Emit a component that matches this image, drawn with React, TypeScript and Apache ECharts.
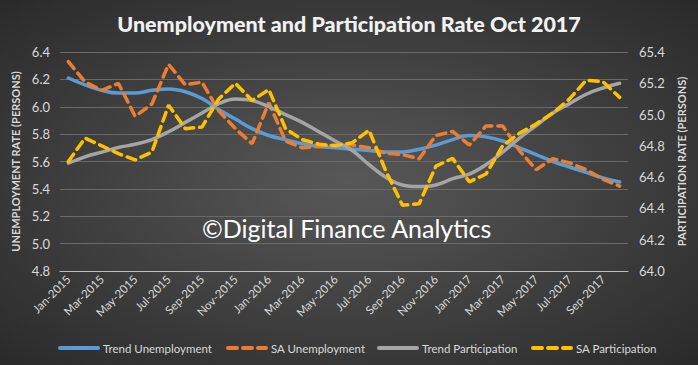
import React, { useEffect, useRef } from 'react';
import * as echarts from 'echarts';

const categories = [
  'Jan-2015', 'Feb-2015', 'Mar-2015', 'Apr-2015', 'May-2015', 'Jun-2015', 'Jul-2015', 'Aug-2015',
  'Sep-2015', 'Oct-2015', 'Nov-2015', 'Dec-2015', 'Jan-2016', 'Feb-2016', 'Mar-2016', 'Apr-2016',
  'May-2016', 'Jun-2016', 'Jul-2016', 'Aug-2016', 'Sep-2016', 'Oct-2016', 'Nov-2016', 'Dec-2016',
  'Jan-2017', 'Feb-2017', 'Mar-2017', 'Apr-2017', 'May-2017', 'Jun-2017', 'Jul-2017', 'Aug-2017',
  'Sep-2017', 'Oct-2017',
];

const trendUnemployment = [
  6.21, 6.16, 6.12, 6.10, 6.10, 6.12, 6.13, 6.11, 6.06, 5.98, 5.91, 5.84, 5.79, 5.76, 5.73, 5.71,
  5.70, 5.69, 5.68, 5.67, 5.67, 5.69, 5.72, 5.76, 5.79, 5.78, 5.75, 5.70, 5.65, 5.60, 5.56, 5.52,
  5.48, 5.45,
];

const saUnemployment = [
  6.33, 6.18, 6.12, 6.17, 5.93, 6.02, 6.31, 6.16, 6.18, 5.97, 5.84, 5.73, 6.03, 5.75, 5.70, 5.71,
  5.72, 5.72, 5.70, 5.66, 5.65, 5.62, 5.79, 5.82, 5.72, 5.86, 5.86, 5.68, 5.54, 5.62, 5.59, 5.54,
  5.47, 5.42,
];

const trendParticipation = [
  64.69, 64.73, 64.76, 64.79, 64.81, 64.84, 64.89, 64.95, 65.01, 65.07, 65.10, 65.09, 65.05, 65.00,
  64.95, 64.89, 64.83, 64.77, 64.68, 64.60, 64.55, 64.54, 64.55, 64.59, 64.62, 64.68, 64.76, 64.85,
  64.93, 65.01, 65.07, 65.13, 65.17, 65.20,
];

const saParticipation = [
  64.70, 64.85, 64.80, 64.75, 64.71, 64.76, 65.06, 64.91, 64.92, 65.10, 65.20, 65.09, 65.16, 64.91,
  64.84, 64.81, 64.80, 64.82, 64.90, 64.64, 64.42, 64.43, 64.67, 64.72, 64.57, 64.62, 64.80, 64.88,
  64.94, 65.01, 65.10, 65.22, 65.21, 65.11,
];

const seriesNames = ['Trend Unemployment', 'SA Unemployment', 'Trend Participation', 'SA Participation'];
const seriesColors = ['#5B9BD5', '#ED7D31', '#A5A5A5', '#FFC000'];

const FONT = 'Lato, "Open Sans", sans-serif';

export default function App() {
  const ref = useRef<HTMLDivElement>(null);

  useEffect(() => {
    document.body.style.margin = '0';
    if (!ref.current) return;
    const chart = echarts.init(ref.current, null, { renderer: 'svg' });
    const legendLefts = [53, 221, 372, 526];
    const textColor = '#d9d9d9';

    const option: any = {
      animation: false,
      backgroundColor: {
        type: 'radial',
        x: 0.5,
        y: 0.5,
        r: 0.75,
        colorStops: [
          { offset: 0, color: '#585858' },
          { offset: 1, color: '#272727' },
        ],
      },
      textStyle: { fontFamily: FONT },
      title: {
        text: 'Unemployment and Participation Rate Oct 2017',
        left: 'center',
        top: 8,
        textStyle: { color: '#f2f2f2', fontSize: 21.5, fontWeight: 900, fontFamily: FONT },
      },
      legend: seriesNames.map((n, i) => ({
        data: [n],
        left: legendLefts[i],
        top: 337,
        itemWidth: 38,
        itemHeight: 12,
        itemGap: 0,
        itemStyle: { opacity: 0 },
        lineStyle: { width: 4, cap: 'round' },
        textStyle: { color: textColor, fontSize: 11.5, fontFamily: FONT },
      })),
      grid: { left: 60, right: 70, top: 52, bottom: 94 },
      xAxis: {
        type: 'category',
        data: categories,
        boundaryGap: true,
        axisTick: { show: false },
        axisLine: { lineStyle: { color: '#bfbfbf', width: 1 } },
        axisLabel: {
          interval: 1,
          rotate: 45,
          color: textColor,
          fontSize: 11.5,
          margin: 6,
          fontFamily: FONT,
        },
      },
      yAxis: [
        {
          type: 'value',
          min: 4.8,
          max: 6.4,
          interval: 0.2,
          name: 'UNEMPLOYMENT RATE (PERSONS)',
          nameLocation: 'middle',
          nameRotate: 90,
          nameGap: 36,
          nameTextStyle: { color: textColor, fontSize: 11, fontWeight: 'bold', fontFamily: FONT },
          axisLine: { show: false },
          axisTick: { show: false },
          axisLabel: {
            color: textColor,
            fontSize: 13,
            margin: 10,
            fontFamily: FONT,
            formatter: (v: number) => v.toFixed(1),
          },
          splitLine: { lineStyle: { color: '#6a6a6a', width: 1 } },
        },
        {
          type: 'value',
          min: 64.0,
          max: 65.4,
          interval: 0.2,
          name: 'PARTICIPATION RATE (PERSONS)',
          nameLocation: 'middle',
          nameRotate: 90,
          nameGap: 40,
          nameTextStyle: { color: textColor, fontSize: 11, fontWeight: 'bold', fontFamily: FONT },
          axisLine: { show: false },
          axisTick: { show: false },
          axisLabel: {
            color: textColor,
            fontSize: 13,
            margin: 11,
            fontFamily: FONT,
            formatter: (v: number) => v.toFixed(1),
          },
          splitLine: { show: false },
        },
      ],
      graphic: [
        {
          type: 'text',
          left: 202,
          top: 215,
          style: {
            text: '©Digital Finance Analytics',
            fill: '#ffffff',
            font: '25px Lato, "Open Sans", sans-serif',
          },
          z: 100,
        },
      ],
      series: [
        {
          name: seriesNames[0],
          type: 'line',
          yAxisIndex: 0,
          data: trendUnemployment,
          smooth: 0.4,
          symbol: 'none',
          color: seriesColors[0],
          lineStyle: { width: 3.5, color: seriesColors[0], cap: 'round' },
        },
        {
          name: seriesNames[1],
          type: 'line',
          yAxisIndex: 0,
          data: saUnemployment,
          symbol: 'none',
          color: seriesColors[1],
          lineStyle: { width: 3.5, color: seriesColors[1], type: [9, 6], cap: 'round' },
        },
        {
          name: seriesNames[2],
          type: 'line',
          yAxisIndex: 1,
          data: trendParticipation,
          smooth: 0.4,
          symbol: 'none',
          color: seriesColors[2],
          lineStyle: { width: 3.5, color: seriesColors[2], cap: 'round' },
        },
        {
          name: seriesNames[3],
          type: 'line',
          yAxisIndex: 1,
          data: saParticipation,
          symbol: 'none',
          color: seriesColors[3],
          lineStyle: { width: 3.5, color: seriesColors[3], type: [9, 6], cap: 'round' },
        },
      ],
    };
    chart.setOption(option);
    return () => chart.dispose();
  }, []);

  return (
    <div
      ref={ref}
      style={{ width: 698, height: 365, position: 'absolute', left: 0, top: 0 }}
    />
  );
}
